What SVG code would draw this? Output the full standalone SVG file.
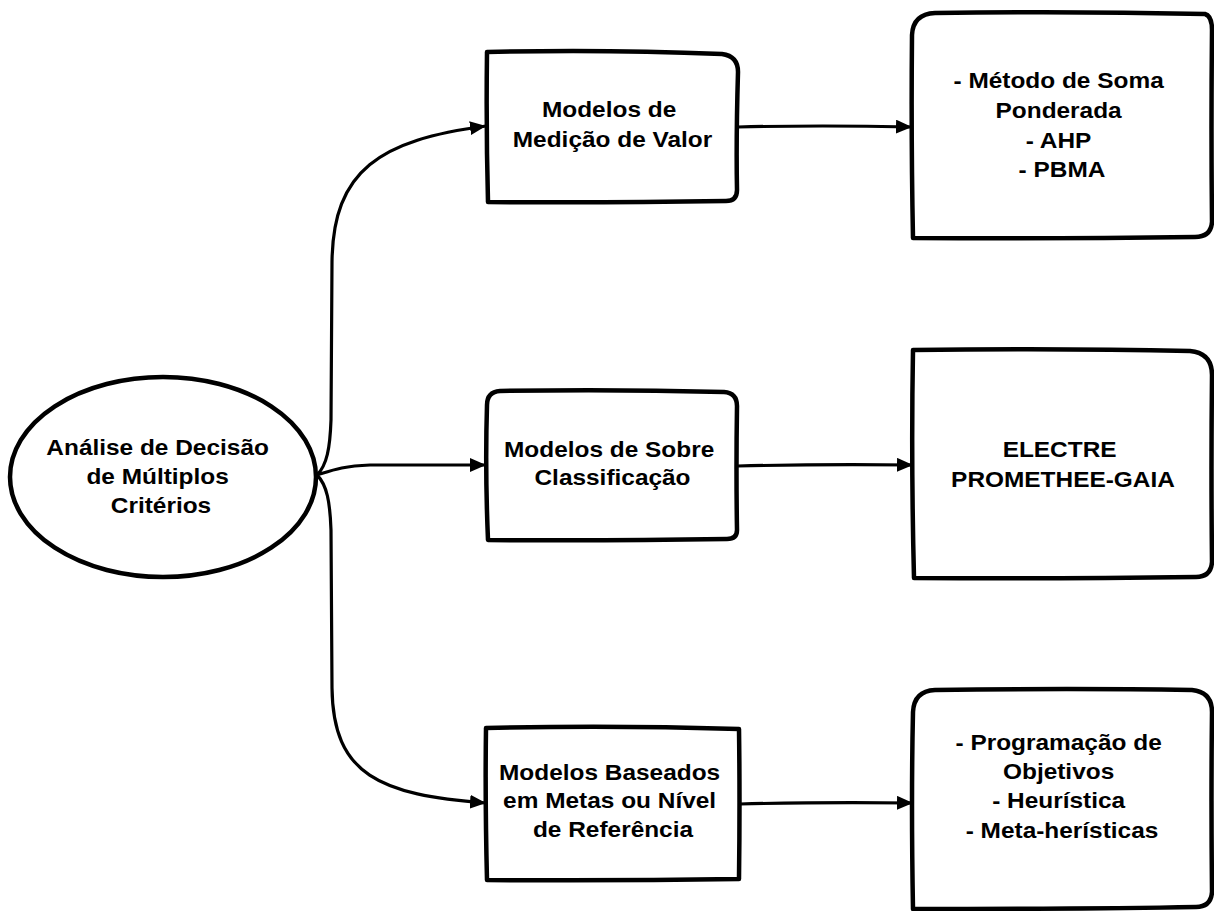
<svg xmlns="http://www.w3.org/2000/svg" width="1214" height="911" viewBox="0 0 1214 911">
  <style>
    .shape { fill: #ffffff; stroke: #000000; stroke-width: 4.5; stroke-linejoin: round; }
    .conn { fill: none; stroke: #000000; stroke-width: 3.2; stroke-linecap: round; }
    .t { font-family: "Liberation Sans", Arial, sans-serif; font-weight: bold; font-size: 22px; fill: #000000; text-anchor: middle; }
  </style>
  <defs>
    <marker id="arrow" markerUnits="userSpaceOnUse" markerWidth="17" markerHeight="14" refX="16" refY="7" orient="auto">
      <path d="M0,0 L16,7 L0,14 z" fill="#000000"/>
    </marker>
  </defs>
  <rect x="0" y="0" width="1214" height="911" fill="#ffffff"/>

  <g id="connectors">
    <path class="conn" marker-end="url(#arrow)" d="M317,475 C327,465 330,448 331,420 L332,262 C333,170 380,140 486,126"/>
    <path class="conn" marker-end="url(#arrow)" d="M317,475 C333,470 343,466 370,465 L486,465"/>
    <path class="conn" marker-end="url(#arrow)" d="M317,475 C327,485 330,502 331,530 L332,688 C333,775 380,795 486,803"/>
    <path class="conn" marker-end="url(#arrow)" d="M738,127 Q820,125 912,127"/>
    <path class="conn" marker-end="url(#arrow)" d="M738,466 Q820,464 913,465"/>
    <path class="conn" marker-end="url(#arrow)" d="M740,804 Q820,802 913,803"/>
  </g>

  <g id="root">
    <ellipse class="shape" cx="163" cy="477" rx="153" ry="100"/>
    <text class="t" transform="translate(161 0) scale(1.11 1)">
      <tspan x="0" y="455">Análise de Decisão</tspan>
      <tspan x="0" y="484">de Múltiplos</tspan>
      <tspan x="0" y="513">Critérios</tspan>
    </text>
  </g>

  <g id="medicao">
    <path class="shape" d="M487,52 Q600,49 722,54 Q738,56 738,72 Q736,140 737,190 Q737,201 726,201 Q600,203 488,202 Q486,130 487,52 Z"/>
    <text class="t" transform="translate(612.5 0) scale(1.11 1)">
      <tspan x="0" y="117">Modelos de</tspan>
      <tspan x="0" y="147">Medição de Valor</tspan>
    </text>
  </g>

  <g id="sobreclassificacao">
    <path class="shape" d="M487,405 Q487,392 500,391 Q610,389 724,392 Q737,393 737,406 Q736,470 737,530 Q737,539 727,539 Q600,541 488,540 Q485,470 487,405 Z"/>
    <text class="t" transform="translate(612.5 0) scale(1.11 1)">
      <tspan x="0" y="457">Modelos de Sobre</tspan>
      <tspan x="0" y="485">Classificação</tspan>
    </text>
  </g>

  <g id="metas">
    <path class="shape" d="M486,728 Q610,725 739,729 Q740,800 739,879 Q610,881 487,880 Q485,800 486,728 Z"/>
    <text class="t" transform="translate(613 0) scale(1.11 1)">
      <tspan x="0" y="780">Modelos Baseados</tspan>
      <tspan x="0" y="808">em Metas ou Nível</tspan>
      <tspan x="0" y="837">de Referência</tspan>
    </text>
  </g>

  <g id="metodos-valor">
    <path class="shape" d="M912,35 Q913,14 935,13 Q1070,11 1205,14 Q1212,16 1212,30 Q1211,130 1212,222 Q1211,237 1195,237 Q1050,239 913,238 Q911,140 912,35 Z"/>
    <text class="t" transform="translate(1062 0) scale(1.11 1)">
      <tspan x="0" y="88">- Método de Soma</tspan>
      <tspan x="0" y="118">Ponderada</tspan>
      <tspan x="0" y="148">- AHP</tspan>
      <tspan x="0" y="177">- PBMA</tspan>
    </text>
  </g>

  <g id="metodos-sobre">
    <path class="shape" d="M913,350 Q1060,348 1190,351 Q1212,353 1212,375 Q1211,470 1212,562 Q1211,577 1196,577 Q1050,579 914,578 Q911,460 913,350 Z"/>
    <text class="t" transform="translate(1063 0) scale(1.11 1)">
      <tspan x="0" y="457">ELECTRE</tspan>
      <tspan x="0" y="487">PROMETHEE-GAIA</tspan>
    </text>
  </g>

  <g id="metodos-metas">
    <path class="shape" d="M913,712 Q914,691 935,690 Q1070,688 1192,690 Q1212,692 1212,712 Q1211,800 1212,892 Q1211,907 1196,907 Q1100,909 913,909 Q911,800 913,712 Z"/>
    <text class="t" transform="translate(1062 0) scale(1.11 1)">
      <tspan x="0" y="750">- Programação de</tspan>
      <tspan x="0" y="779">Objetivos</tspan>
      <tspan x="0" y="808">- Heurística</tspan>
      <tspan x="0" y="838">- Meta-herísticas</tspan>
    </text>
  </g>
</svg>
